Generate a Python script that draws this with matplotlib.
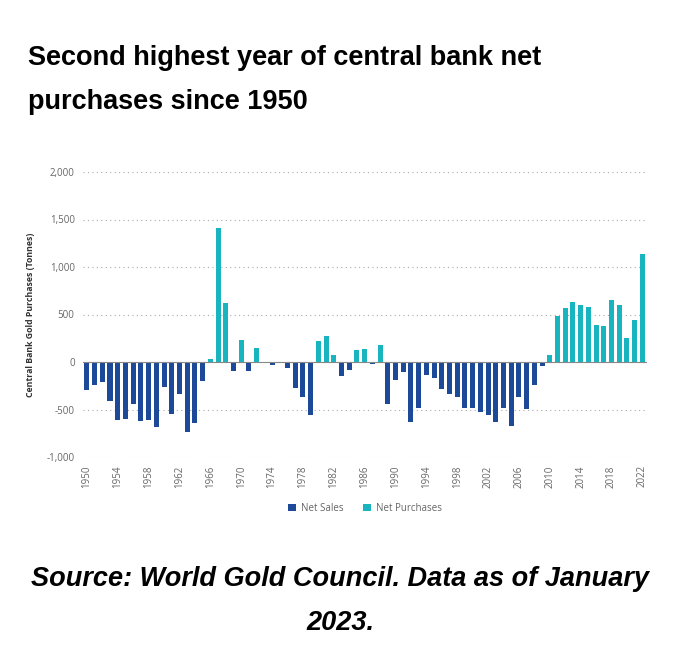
import matplotlib.pyplot as plt
import numpy as np

years = list(range(1950, 2023))
net_flow = [
    -295, -240, -211, -412, -606, -599, -440, -623, -613, -683,
    -268, -546, -335, -739, -641, -201, 28, 1408, 620, -95,
    229, -99, 144, -3, -28, -14, -63, -278, -370, -553,
    225, 271, 77, -148, -88, 130, 141, -21, 176, -440,
    -194, -106, -630, -479, -137, -173, -285, -335, -370, -489,
    -489, -528, -556, -630, -486, -676, -373, -493, -239, -39,
    74, 479, 567, 627, 602, 577, 394, 377, 655, 602,
    250, 447, 1137,
]
tick_years = list(range(1950, 2023, 4))
y_ticks = [-1000, -500, 0, 500, 1000, 1500, 2000]

dark_blue = "#1c4a98"
teal = "#18b4c0"
grey = "#666666"

x = np.array(years)
vals = np.array(net_flow)
sales = np.where(vals < 0, vals, 0)
purchases = np.where(vals >= 0, vals, 0)

fig = plt.figure(figsize=(6.8, 6.56), dpi=100)
ax = fig.add_axes([83 / 680, 1 - 457 / 656, (647 - 83) / 680, (457 - 172) / 656])

ax.bar(x, sales, width=0.65, color=dark_blue, label="Net Sales", zorder=3)
ax.bar(x, purchases, width=0.65, color=teal, label="Net Purchases", zorder=3)
ax.axhline(0, color="#888888", lw=0.8, zorder=4)

ax.set_ylim(-1000, 2000)
ax.set_xlim(1949.5, 2022.6)
ax.set_yticks(y_ticks)
ax.set_yticklabels([f"{v:,}" for v in y_ticks])
ax.set_xticks(tick_years)
ax.set_xticklabels([str(t) for t in tick_years], rotation=90)
ax.grid(axis="y", linestyle=(0, (1, 3)), color="#aaaaaa", lw=0.8, zorder=0)
for s in ax.spines.values():
    s.set_visible(False)
ax.tick_params(length=0, labelsize=7, labelcolor=grey, pad=6)
for lbl in ax.get_xticklabels() + ax.get_yticklabels():
    lbl.set_fontfamily("Open Sans")
ax.set_ylabel("Central Bank Gold Purchases (Tonnes)", fontsize=6.3,
              fontweight="bold", color="#333333", family="Open Sans", labelpad=8)

leg = ax.legend(loc="upper center", bbox_to_anchor=(0.5, -0.13), ncol=2,
                frameon=False, handlelength=0.8, handleheight=0.8,
                columnspacing=2.0, handletextpad=0.5,
                prop={"family": "Open Sans", "size": 7})
for t in leg.get_texts():
    t.set_color(grey)

fig.text(28 / 680, 1 - 80 / 656,
         "Second highest year of central bank net\npurchases since 1950",
         family="Liberation Sans", fontweight="bold", fontsize=19.5,
         va="center", ha="left", linespacing=1.9)
fig.text(0.5, 1 - 601 / 656,
         "Source: World Gold Council. Data as of January\n2023.",
         family="Liberation Sans", fontweight="bold", style="italic",
         fontsize=19.5, va="center", ha="center", linespacing=1.9)

fig.savefig("out.png", dpi=100)
